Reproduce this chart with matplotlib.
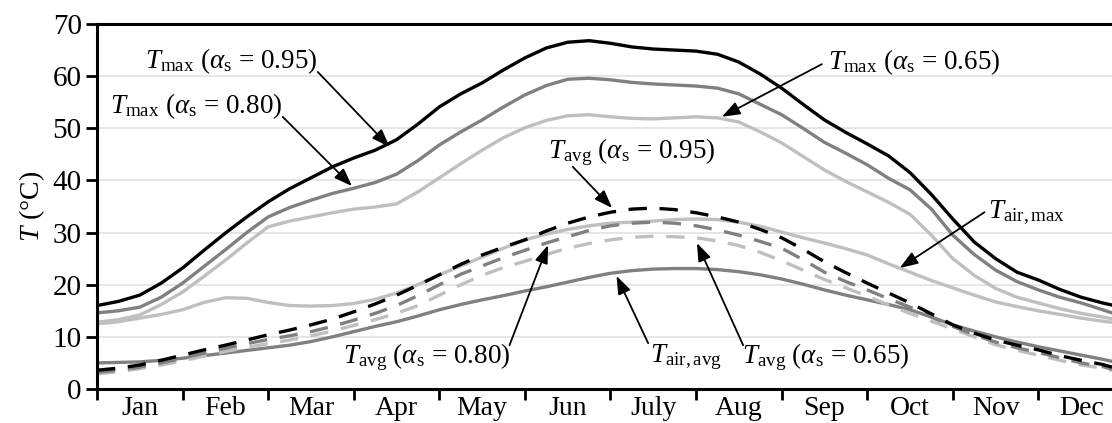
import numpy as np
import matplotlib
matplotlib.use("Agg")
import matplotlib.pyplot as plt

plt.rcParams['font.family'] = ['Liberation Serif', 'DejaVu Serif']
plt.rcParams['mathtext.fontset'] = 'custom'
plt.rcParams['mathtext.rm'] = 'Liberation Serif'
plt.rcParams['mathtext.it'] = 'Liberation Serif:italic'

############
# month position (0 = start of Jan), values every quarter month
month_pos = [0, 0.25, 0.5, 0.75, 1, 1.25, 1.5, 1.75, 2, 2.25, 2.5, 2.75,
             3, 3.25, 3.5, 3.75, 4, 4.25, 4.5, 4.75, 5, 5.25, 5.5, 5.75,
             6, 6.25, 6.5, 6.75, 7, 7.25, 7.5, 7.75, 8, 8.25, 8.5, 8.75,
             9, 9.25, 9.5, 9.75, 10, 10.25, 10.5, 10.75, 11, 11.25, 11.5, 11.75, 11.86]
months = ['Jan', 'Feb', 'Mar', 'Apr', 'May', 'Jun', 'July', 'Aug', 'Sep', 'Oct', 'Nov', 'Dec']

tmax_095 = [16.0, 16.8, 18.0, 20.3, 23.2, 26.6, 29.9, 33.0, 35.9, 38.4, 40.5, 42.6,
            44.3, 45.8, 47.8, 50.8, 54.1, 56.6, 58.7, 61.2, 63.5, 65.4, 66.5, 66.8,
            66.3, 65.6, 65.2, 65.0, 64.8, 64.2, 62.7, 60.4, 57.7, 54.6, 51.6, 49.2,
            47.0, 44.7, 41.5, 37.3, 32.6, 28.2, 25.0, 22.4, 20.9, 19.1, 17.6, 16.5, 16.1]
tmax_080 = [14.6, 15.0, 15.7, 17.6, 20.3, 23.5, 26.7, 30.0, 33.0, 34.8, 36.2, 37.5,
            38.5, 39.6, 41.2, 43.8, 46.8, 49.3, 51.6, 54.1, 56.4, 58.2, 59.4, 59.6,
            59.3, 58.8, 58.5, 58.3, 58.1, 57.7, 56.6, 54.6, 52.6, 50.0, 47.3, 45.2,
            43.0, 40.4, 38.2, 34.5, 29.5, 25.8, 22.8, 20.6, 19.0, 17.6, 16.5, 15.2, 14.6]
tmax_065 = [12.8, 13.3, 14.2, 16.2, 18.6, 21.6, 24.7, 28.0, 31.1, 32.2, 33.0, 33.8,
            34.5, 34.9, 35.5, 37.8, 40.5, 43.2, 45.8, 48.2, 50.1, 51.5, 52.4, 52.6,
            52.2, 51.9, 51.8, 52.0, 52.2, 52.0, 51.2, 49.3, 47.2, 44.6, 42.0, 39.8,
            37.8, 35.8, 33.5, 29.5, 25.0, 21.8, 19.3, 17.6, 16.5, 15.4, 14.5, 13.8, 13.5]
tair_max = [12.5, 12.9, 13.6, 14.3, 15.2, 16.6, 17.5, 17.4, 16.6, 16.0, 15.9, 16.0,
            16.4, 17.2, 18.4, 20.0, 21.9, 23.6, 25.3, 27.0, 28.6, 29.7, 30.6, 31.3,
            31.8, 32.0, 32.2, 32.5, 32.6, 32.5, 32.0, 31.2, 30.1, 29.0, 28.0, 26.9,
            25.7, 24.0, 22.4, 20.8, 19.4, 18.0, 16.7, 15.8, 15.0, 14.3, 13.6, 13.0, 12.8]
tair_avg = [5.0, 5.1, 5.2, 5.5, 5.9, 6.4, 6.9, 7.4, 7.9, 8.4, 9.1, 10.0,
            11.0, 12.0, 12.9, 14.0, 15.2, 16.2, 17.1, 17.9, 18.8, 19.6, 20.5, 21.4,
            22.2, 22.7, 23.0, 23.1, 23.1, 22.9, 22.5, 21.9, 21.1, 20.1, 19.0, 18.0,
            17.1, 16.2, 15.2, 13.8, 12.3, 11.1, 10.0, 9.0, 8.1, 7.3, 6.5, 5.7, 5.3]
tavg_095 = [3.6, 4.0, 4.6, 5.5, 6.5, 7.5, 8.4, 9.4, 10.4, 11.3, 12.3, 13.4,
            14.8, 16.3, 18.0, 19.9, 21.9, 23.9, 25.7, 27.2, 28.6, 30.3, 31.8, 33.0,
            33.9, 34.5, 34.7, 34.4, 33.8, 33.0, 32.0, 30.6, 29.0, 26.8, 24.4, 22.3,
            20.3, 18.4, 16.5, 14.4, 12.3, 10.7, 9.4, 8.4, 7.5, 6.4, 5.5, 4.7, 4.2]
tavg_080 = [3.2, 3.6, 4.2, 5.0, 5.9, 6.9, 7.8, 8.7, 9.5, 10.2, 11.0, 12.0,
            13.2, 14.5, 16.0, 17.9, 20.0, 22.0, 23.6, 25.2, 26.6, 28.0, 29.2, 30.4,
            31.3, 31.8, 32.0, 31.8, 31.3, 30.5, 29.5, 28.3, 27.0, 24.8, 22.4, 20.6,
            19.0, 17.3, 15.7, 13.8, 12.0, 10.4, 9.0, 7.9, 7.0, 6.0, 5.0, 4.3, 3.8]
tavg_065 = [2.9, 3.3, 3.9, 4.6, 5.4, 6.3, 7.2, 8.0, 8.7, 9.4, 10.2, 11.1,
            12.2, 13.3, 14.5, 16.0, 18.0, 20.0, 21.8, 23.3, 24.5, 25.8, 27.0, 27.9,
            28.6, 29.1, 29.3, 29.2, 29.0, 28.4, 27.5, 26.2, 24.6, 22.8, 21.0, 19.4,
            17.8, 16.1, 14.5, 13.0, 11.5, 10.0, 8.5, 7.4, 6.5, 5.5, 4.6, 4.0, 3.6]

BLACK, DARK, LIGHT = '#000000', '#808080', '#bfbfbf'
LW = 2.4
DASH = (0, (5.5, 3.8))

fig = plt.figure(figsize=(11.12, 4.23), dpi=100)
ax = fig.add_axes([97 / 1112, 1 - 389 / 423, 1 - 97 / 1112, 365 / 423])

ax.plot(month_pos, tair_max, color=LIGHT, lw=LW)
ax.plot(month_pos, tair_avg, color=DARK, lw=LW)
ax.plot(month_pos, tmax_065, color=LIGHT, lw=LW)
ax.plot(month_pos, tmax_080, color=DARK, lw=LW)
ax.plot(month_pos, tmax_095, color=BLACK, lw=LW)
ax.plot(month_pos, tavg_065, color=LIGHT, lw=LW, ls=DASH)
ax.plot(month_pos, tavg_080, color=DARK, lw=LW, ls=DASH)
ax.plot(month_pos, tavg_095, color=BLACK, lw=LW, ls=DASH)

ax.set_xlim(0, 11.86)
ax.set_ylim(0, 70)
ax.set_yticks(range(0, 71, 10))
ax.yaxis.grid(True, color='#e2e2e2', lw=1.2)
ax.set_axisbelow(True)

ax.set_xticks(range(0, 12))
ax.set_xticklabels([])
ax.set_xticks(np.arange(12) + 0.5, minor=True)
ax.set_xticklabels(months, minor=True)
ax.tick_params(axis='x', which='minor', length=0, labelsize=20, pad=5)
ax.tick_params(axis='x', which='major', length=8, width=2, direction='out')
ax.tick_params(axis='y', length=8, width=2, direction='out', labelsize=21, pad=3)

for s in ['left', 'bottom', 'top']:
    ax.spines[s].set_linewidth(2.2)
ax.spines['right'].set_visible(False)

ax.set_ylabel(r'$T$ (°C)', fontsize=20, labelpad=4)

# labels + arrows: (text, text pos, ha, arrow tail, arrow tip)
notes = [
    (r'$T_{\mathrm{max}}$ ($\alpha_{\mathrm{s}}$ = 0.95)', (0.56, 62.9), 'left', (2.58, 60.8), (3.42, 46.4)),
    (r'$T_{\mathrm{max}}$ ($\alpha_{\mathrm{s}}$ = 0.80)', (0.15, 54.3), 'left', (2.17, 52.2), (2.98, 38.9)),
    (r'$T_{\mathrm{max}}$ ($\alpha_{\mathrm{s}}$ = 0.65)', (8.54, 62.7), 'left', (8.47, 62.3), (7.30, 52.2)),
    (r'$T_{\mathrm{avg}}$ ($\alpha_{\mathrm{s}}$ = 0.95)', (5.27, 45.5), 'left', (5.56, 42.6), (6.02, 34.7)),
    (r'$T_{\mathrm{air,max}}$', (10.41, 33.8), 'left', (10.37, 33.9), (9.38, 23.2)),
    (r'$T_{\mathrm{avg}}$ ($\alpha_{\mathrm{s}}$ = 0.80)', (4.83, 6.1), 'right', (4.82, 8.4), (5.27, 27.6)),
    (r'$T_{\mathrm{air,avg}}$', (6.46, 6.1), 'left', (6.44, 8.8), (6.07, 21.7)),
    (r'$T_{\mathrm{avg}}$ ($\alpha_{\mathrm{s}}$ = 0.65)', (7.54, 6.1), 'left', (7.55, 8.4), (7.01, 28.0)),
]
for txt, pos, ha, tail, tip in notes:
    ax.text(pos[0], pos[1], txt, ha=ha, va='center', fontsize=19.5)
    ax.annotate('', xy=tip, xytext=tail,
                arrowprops=dict(arrowstyle='-|>,head_length=0.55,head_width=0.2',
                                color='black', lw=1.3, mutation_scale=20,
                                shrinkA=0, shrinkB=0))

fig.savefig('out.png', dpi=100)
